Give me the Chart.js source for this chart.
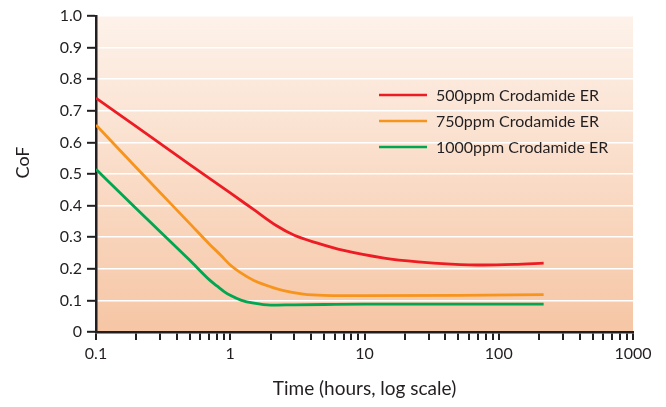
<!DOCTYPE html>
<html>
<head>
<meta charset="utf-8">
<script src="https://cdn.jsdelivr.net/npm/chart.js@4/dist/chart.umd.min.js"></script>
<style>
  html, body { margin: 0; padding: 0; background: #ffffff; }
  #wrap { width: 666px; height: 407px; }
</style>
</head>
<body>
<div id="wrap"><canvas id="c" width="666" height="407"></canvas></div>
<script>
// ---- data ----
const seriesLabels = ['500ppm Crodamide ER', '750ppm Crodamide ER', '1000ppm Crodamide ER'];

const timeRed = [0.1, 0.2, 0.5, 1, 1.5, 2.2, 3, 4.4, 7, 14, 25, 44, 77, 130, 216];
const cofRed  = [0.74, 0.65, 0.53, 0.44, 0.387, 0.337, 0.306, 0.282, 0.258, 0.234, 0.222, 0.215, 0.212, 0.214, 0.218];

const timeOrange = [0.1, 0.2, 0.5, 0.7, 0.85, 1, 1.2, 1.5, 2, 2.5, 3.5, 5, 10, 50, 216];
const cofOrange  = [0.655, 0.52, 0.343, 0.278, 0.243, 0.212, 0.187, 0.163, 0.143, 0.131, 0.12, 0.116, 0.115, 0.116, 0.118];

const timeGreen = [0.1, 0.2, 0.5, 0.7, 0.8, 0.9, 1, 1.2, 1.5, 2, 3, 5, 10, 50, 216];
const cofGreen  = [0.515, 0.39, 0.227, 0.165, 0.145, 0.128, 0.116, 0.101, 0.091, 0.085, 0.086, 0.087, 0.088, 0.088, 0.088];

const xTickValues = [0.1,0.2,0.3,0.4,0.5,0.6,0.7,0.8,0.9,
                     1,2,3,4,5,6,7,8,9,
                     10,20,30,40,50,60,70,80,90,
                     100,200,300,400,500,600,700,800,900,1000];
const xTickLabels = {0.1: '0.1', 1: '1', 10: '10', 100: '100', 1000: '1000'};
const yTickValues = [0, 0.1, 0.2, 0.3, 0.4, 0.5, 0.6, 0.7, 0.8, 0.9, 1.0];

const colors = ['#ed1c24', '#f7941d', '#00a651'];
const INK = '#231f20';
const FONT = 'Lato, "Open Sans", sans-serif';

function pts(xs, ys) { return xs.map((x, i) => ({x: x, y: ys[i]})); }

const bgPlugin = {
  id: 'bg',
  beforeDraw(chart) {
    const {ctx, chartArea: a} = chart;
    const g = ctx.createLinearGradient(0, a.top, 0, a.bottom);
    g.addColorStop(0, '#fdf2ea');
    g.addColorStop(1, '#f6c6a5');
    ctx.save();
    ctx.fillStyle = g;
    ctx.fillRect(a.left, a.top, a.right - a.left, a.bottom - a.top);
    ctx.restore();
  }
};

const legendPlugin = {
  id: 'inlegend',
  afterDatasetsDraw(chart) {
    const {ctx} = chart;
    const x0 = 379, x1 = 427, tx = 436, y0 = 95, dy = 26;
    ctx.save();
    chart.data.datasets.forEach((ds, i) => {
      const y = y0 + i * dy;
      ctx.strokeStyle = ds.borderColor;
      ctx.lineWidth = 2.6;
      ctx.beginPath(); ctx.moveTo(x0, y); ctx.lineTo(x1, y); ctx.stroke();
      ctx.fillStyle = INK;
      ctx.font = '16px ' + FONT;
      ctx.textBaseline = 'middle';
      ctx.textAlign = 'left';
      ctx.fillText(ds.label, tx, y + 1);
    });
    ctx.restore();
  }
};

new Chart(document.getElementById('c'), {
  type: 'line',
  data: {
    datasets: [
      {label: seriesLabels[0], data: pts(timeRed, cofRed), borderColor: colors[0]},
      {label: seriesLabels[1], data: pts(timeOrange, cofOrange), borderColor: colors[1]},
      {label: seriesLabels[2], data: pts(timeGreen, cofGreen), borderColor: colors[2]}
    ]
  },
  options: {
    responsive: false,
    animation: false,
    devicePixelRatio: 1,
    layout: {padding: {left: 0, right: 33, top: 16, bottom: 0}},
    elements: {
      line: {borderWidth: 2.8, cubicInterpolationMode: 'monotone', fill: false},
      point: {radius: 0}
    },
    plugins: {legend: {display: false}, tooltip: {enabled: false}},
    scales: {
      x: {
        type: 'logarithmic',
        min: 0.1, max: 1000,
        afterFit(s) { s.height = 75; },
        afterBuildTicks(s) { s.ticks = xTickValues.map(v => ({value: v})); },
        border: {display: true, color: INK, width: 2.5},
        grid: {drawOnChartArea: false, drawTicks: true, tickLength: 8, color: INK, lineWidth: 2},
        ticks: {
          autoSkip: false, maxRotation: 0, padding: 4,
          color: INK, font: {family: FONT, size: 16},
          callback: (v) => xTickLabels[v] !== undefined ? xTickLabels[v] : ''
        },
        title: {display: true, text: 'Time (hours, log scale)', color: INK,
                font: {family: FONT, size: 19}, padding: {top: 0, bottom: 7}}
      },
      y: {
        min: 0, max: 1,
        afterFit(s) { s.width = 96; },
        afterBuildTicks(s) { s.ticks = yTickValues.map(v => ({value: v})); },
        border: {display: true, color: INK, width: 2.5},
        grid: {
          drawTicks: true, tickLength: 9, tickColor: INK, tickWidth: 2,
          color: (c) => (c.tick && c.tick.value === 0) ? 'rgba(0,0,0,0)' : '#ffffff',
          lineWidth: 1.6
        },
        ticks: {
          padding: 5, color: INK, font: {family: FONT, size: 16},
          callback: (v) => (v === 0 ? '0' : v.toFixed(1))
        },
        title: {display: true, text: '     CoF', color: INK,
                font: {family: FONT, size: 18}, padding: {top: 12, bottom: 0}}
      }
    }
  },
  plugins: [bgPlugin, legendPlugin]
});
</script>
</body>
</html>
